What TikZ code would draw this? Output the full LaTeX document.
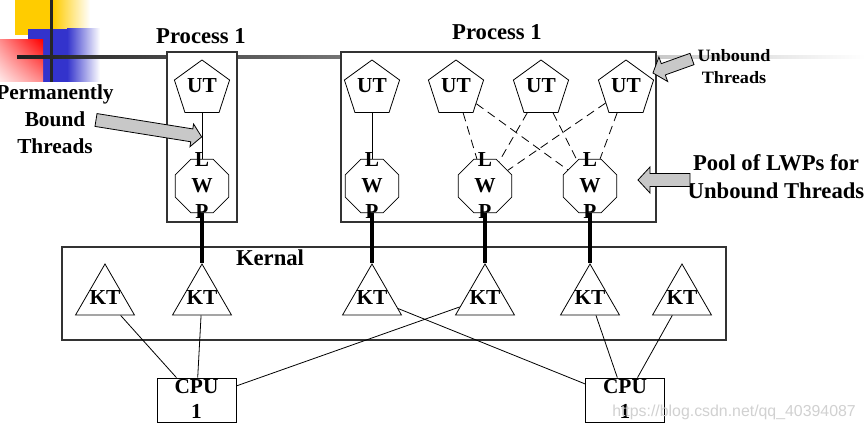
\documentclass[tikz,border=0pt]{standalone}
\usepackage{fontspec}
\setmainfont{Liberation Serif}
\newfontfamily\wmfont{Liberation Sans}
\usetikzlibrary{shapes.geometric,shadings}
\definecolor{ygold}{HTML}{FFCC00}
\definecolor{pblue}{HTML}{3333CC}
\definecolor{agray}{HTML}{C8C8C8}
\newcommand\blockarr[6]{%
  \begin{scope}[shift={#1}, rotate=#2]
    \draw[garrow] (0,-#4) -- ({#3-#6},-#4) -- ({#3-#6},-#5) -- (#3,0) -- ({#3-#6},#5) -- ({#3-#6},#4) -- (0,#4) -- cycle;
  \end{scope}}
\begin{document}
\begin{tikzpicture}[x=0.75pt,y=-0.75pt,
  garrow/.style={draw=black, line width=0.6pt, fill=agray},
  pbox/.style={draw=black!80, line width=0.8pt, fill=white, inner sep=0},
  utshape/.style={draw, line width=0.6pt, fill=white, regular polygon, regular polygon sides=5, minimum size=43.5pt, inner sep=0},
  lwpshape/.style={draw, line width=0.6pt, fill=white, regular polygon, regular polygon sides=8, minimum size=43.5pt, inner sep=0},
  ktshape/.style={draw, line width=0.6pt, regular polygon, regular polygon sides=3, minimum size=51pt, inner sep=0},
  cpushape/.style={draw, line width=0.6pt, minimum width=59.25pt, minimum height=33pt, inner sep=0},
  lbl/.style={font=\bfseries\fontsize{16}{19.5}\selectfont, inner sep=0, align=center},
  ttl/.style={font=\bfseries\fontsize{17}{21}\selectfont, inner sep=0, align=center},
  thin/.style={line width=0.6pt},
  dsh/.style={line width=0.6pt, dash pattern=on 6.5pt off 4pt},
  thick/.style={line width=3pt}
]
\useasboundingbox (0,0) rectangle (865,431);
\fill[white] (0,0) rectangle (865,431);

% decorative corner
\fill[ygold] (15,0) rectangle (53,35);
\shade[left color=ygold, right color=white] (53,0) rectangle (90,35);
\fill[pblue] (28,29) rectangle (67,82);
\shade[left color=pblue, right color=white] (67,29) rectangle (100,82);
\shade[upper right=red, upper left=red!45, lower right=red!45, lower left=red!8] (0,40) rectangle (43,82);
\fill[black!85] (49.5,0) rectangle (52.5,82);
\shade[left color=black!88, middle color=black!22, right color=white] (17,55.5) rectangle (865,58.5);

% containers
\node[pbox, minimum width=52.5pt, minimum height=127.5pt] (p1) at (202,137) {};
\node[pbox, minimum width=236.25pt, minimum height=127.5pt] (p2) at (498.5,137) {};
\node[pbox, minimum width=498pt, minimum height=69.75pt] (kern) at (394,293.5) {};

% titles
\node[ttl] (tp1) at (201,36) {Process 1};
\node[ttl] (tp2) at (497,32) {Process 1};
\node[ttl] (tk) at (270,258) {Kernal};

% user threads
\node[utshape] (u1) at (202,89) {};
\node[utshape] (u2) at (372,89) {};
\node[utshape] (u3) at (456,89) {};
\node[utshape] (u4) at (541,89) {};
\node[utshape] (u5) at (626,89) {};
\foreach \n/\x in {u1/202,u2/372,u3/456,u4/541,u5/626}
  \node[lbl] (t\n) at (\x,86) {UT};

% LWPs
\node[lwpshape] (l1) at (202,186) {};
\node[lwpshape] (l2) at (372,186) {};
\node[lwpshape] (l3) at (485,186) {};
\node[lwpshape] (l4) at (590,186) {};
\foreach \n/\x in {l1/202,l2/372,l3/485,l4/590}
  \node[lbl] (t\n) at (\x,186) {L\\W\\P};

% kernel threads
\node[ktshape] (k1) at (105,298) {};
\node[ktshape] (k2) at (202,298) {};
\node[ktshape] (k3) at (372,298) {};
\node[ktshape] (k4) at (485,298) {};
\node[ktshape] (k5) at (590,298) {};
\node[ktshape] (k6) at (682,298) {};
\foreach \n/\x in {k1/105,k2/202,k3/372,k4/485,k5/590,k6/682}
  \node[lbl] (t\n) at (\x,298) {KT};

% CPUs
\node[cpushape] (c1) at (196.5,400) {};
\node[cpushape] (c2) at (625,400) {};
\node[lbl, font=\bfseries\fontsize{16}{19}\selectfont] (tc1) at (196.5,399) {CPU\\1};
\node[lbl, font=\bfseries\fontsize{16}{19}\selectfont] (tc2) at (625,399) {CPU\\1};

% connectors UT - LWP
\draw[thin] (u1) -- (l1);
\draw[thin] (u2) -- (l2);
\draw[dsh] (u3) -- (l3);
\draw[dsh] (u3) -- (l4);
\draw[dsh] (u4) -- (l3);
\draw[dsh] (u4) -- (l4);
\draw[dsh] (u5) -- (l3);
\draw[dsh] (u5) -- (l4);

% LWP - KT
\draw[thick] (l1.south) -- (k2.north);
\draw[thick] (l2.south) -- (k3.north);
\draw[thick] (l3.south) -- (k4.north);
\draw[thick] (l4.south) -- (k5.north);

% KT - CPU
\draw[thin] (k1) -- (c1);
\draw[thin] (k2) -- (c1);
\draw[thin] (k4) -- (c1);
\draw[thin] (k3) -- (c2);
\draw[thin] (k5) -- (c2);
\draw[thin] (k6) -- (c2);

% annotations
\node[lbl, font=\bfseries\fontsize{16}{20.25}\selectfont] (tpb) at (55,119) {Permanently\\Bound\\Threads};
\blockarr{(96,120)}{-9.1}{107}{6.5}{11.5}{10}
\node[inner sep=0] (tub) at (734,68) {\scalebox{1.05}[1]{\bfseries\fontsize{13}{16.5}\selectfont\begin{tabular}{@{}c@{}}Unbound\\Threads\end{tabular}}};
\blockarr{(692,59)}{-160.3}{41.5}{6}{13}{11}
\node[ttl] (tpool) at (776,177) {Pool of LWPs for\\Unbound Threads};
\blockarr{(690,180)}{180}{52}{6.5}{13}{12}

% watermark
\node[inner sep=0, text=black!18, font=\wmfont\fontsize{11.9}{14}\selectfont] (twm) at (734,412) {https://blog.csdn.net/qq\_40394087};
\end{tikzpicture}
\end{document}
